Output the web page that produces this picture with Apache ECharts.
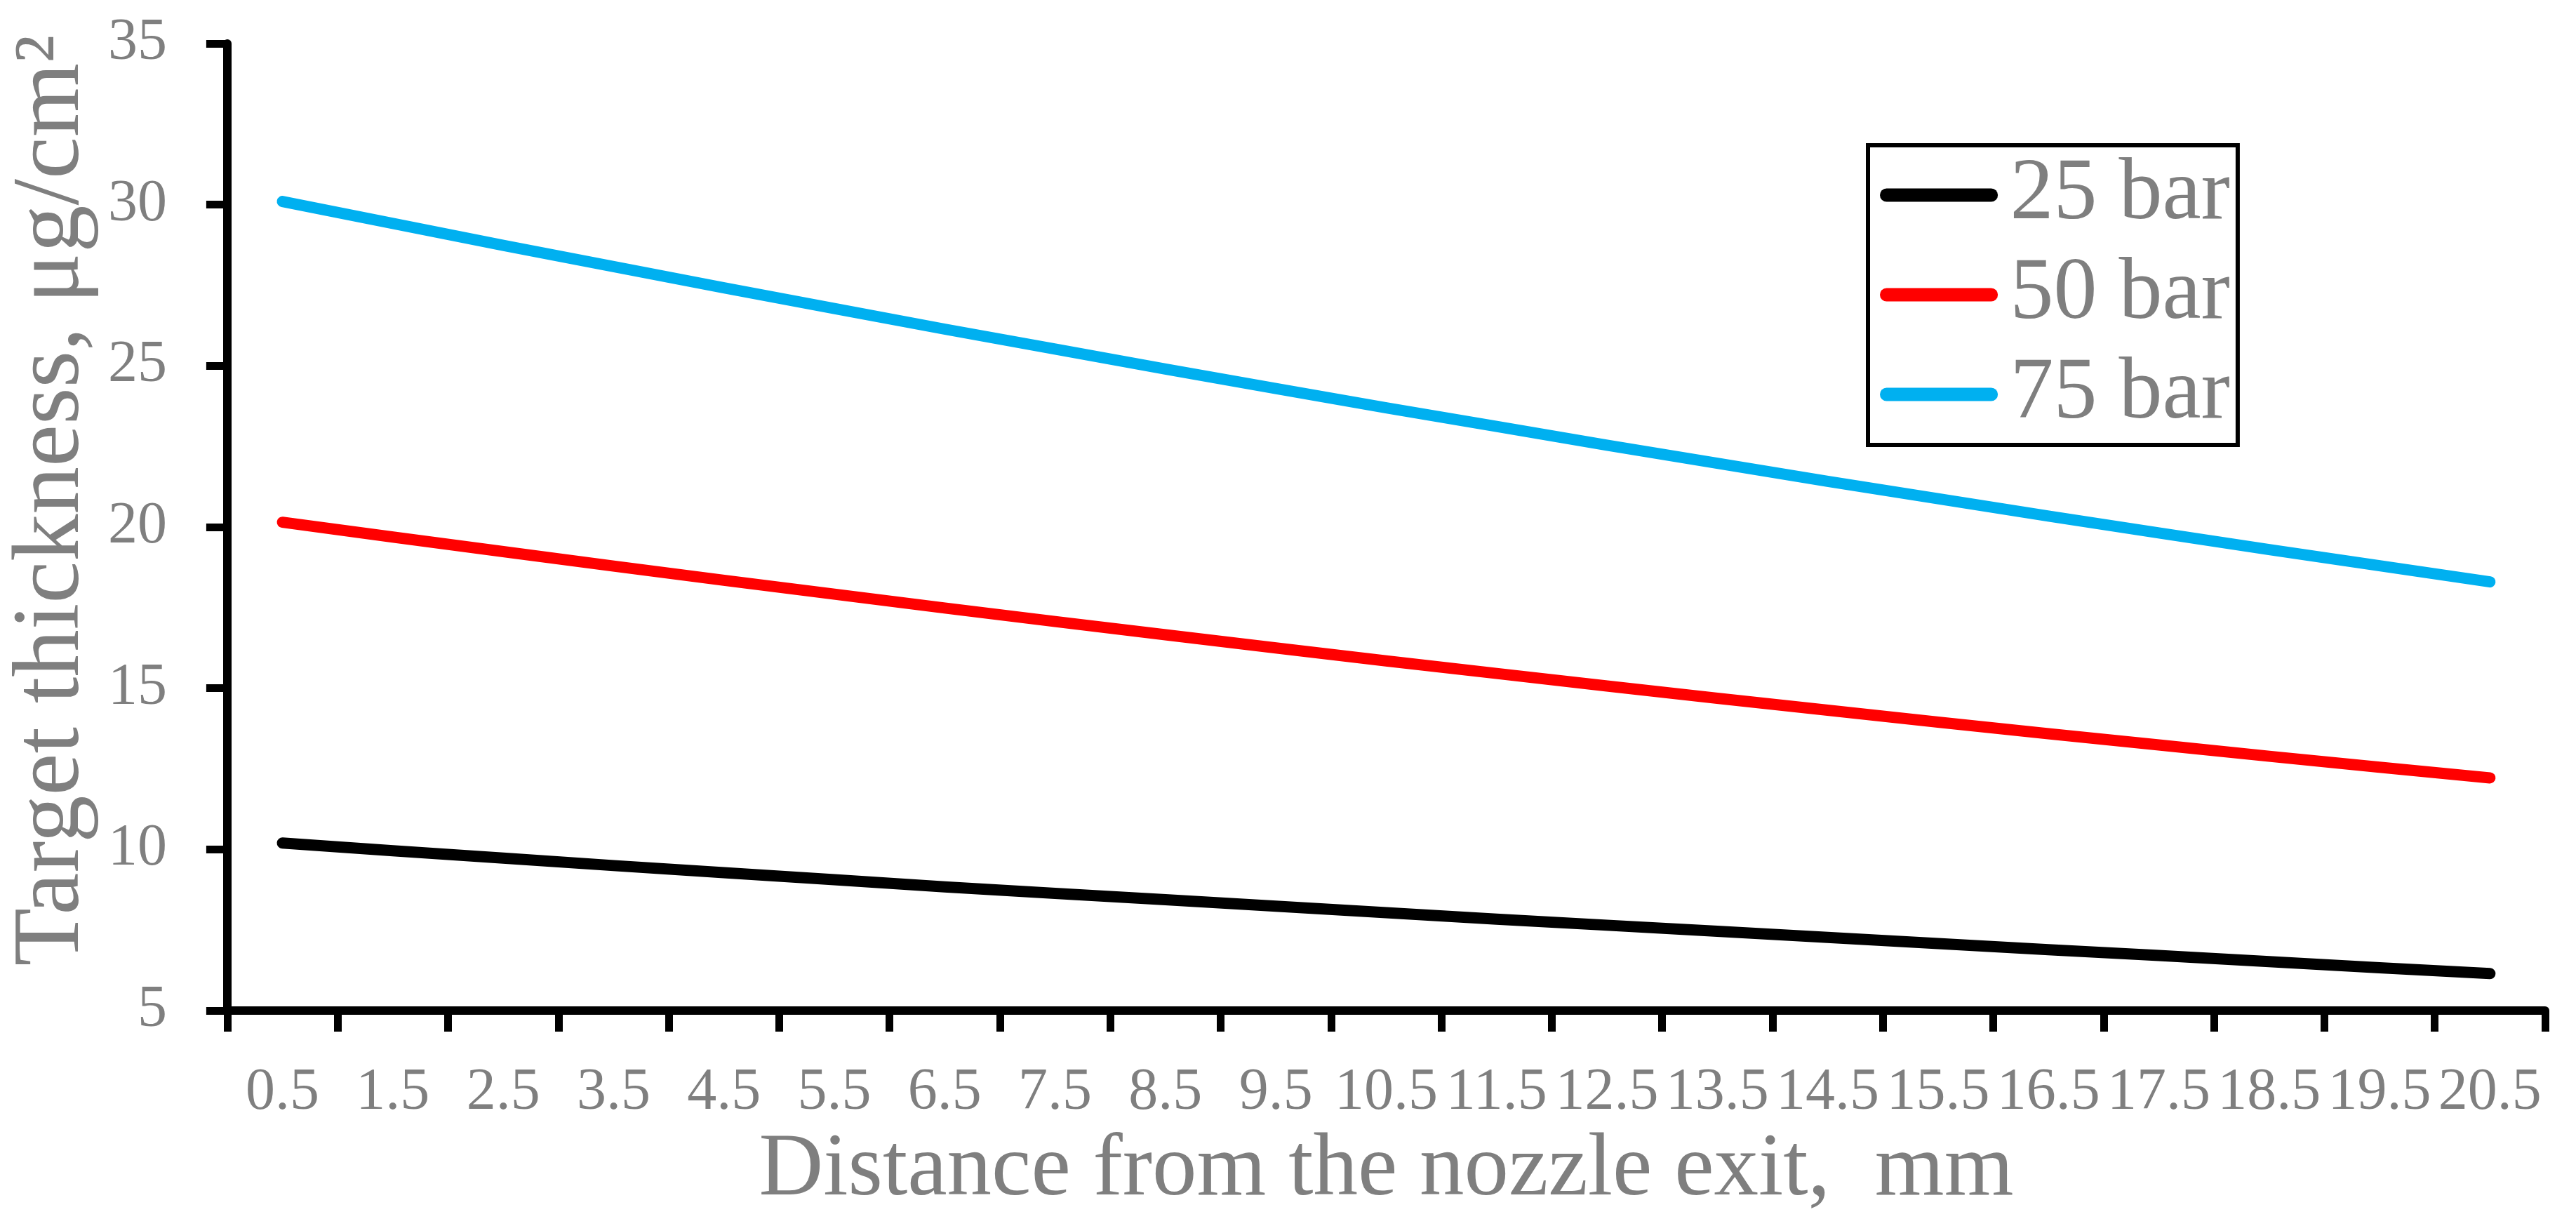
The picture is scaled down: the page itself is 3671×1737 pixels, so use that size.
<!DOCTYPE html>
<html>
<head>
<meta charset="utf-8">
<script src="https://cdn.jsdelivr.net/npm/echarts@6/dist/echarts.min.js"></script>
<style>
html,body{margin:0;padding:0;background:#fff;}
#chart{width:3671px;height:1737px;}
</style>
</head>
<body>
<div id="chart"></div>
<script>
// Data
const distances = ['0.5','1.5','2.5','3.5','4.5','5.5','6.5','7.5','8.5','9.5','10.5','11.5','12.5','13.5','14.5','15.5','16.5','17.5','18.5','19.5','20.5'];
const bar25 = [10.20,9.96,9.73,9.50,9.28,9.06,8.84,8.64,8.44,8.24,8.04,7.84,7.65,7.46,7.27,7.08,6.89,6.71,6.52,6.33,6.15];
const bar50 = [20.15,19.69,19.24,18.79,18.35,17.92,17.49,17.07,16.66,16.25,15.85,15.46,15.07,14.69,14.32,13.95,13.59,13.24,12.89,12.55,12.22];
const bar75 = [30.10,29.42,28.74,28.08,27.42,26.78,26.14,25.52,24.90,24.30,23.70,23.12,22.54,21.98,21.42,20.88,20.34,19.82,19.30,18.80,18.30];
const seriesNames = ['25 bar','50 bar','75 bar'];
const yTicks = {min: 5, max: 35, interval: 5};

const FONT = '"Liberation Serif", "DejaVu Serif", serif';
const GRAY = '#7f7f7f';
const colors = ['#000000', '#FF0000', '#00B0F0'];
const capsule = 'path://M10,0 L167,0 A10,10 0 0 1 167,20 L10,20 A10,10 0 0 1 10,0 Z';

const chart = echarts.init(document.getElementById('chart'), null, {renderer: 'canvas'});
const mk = (name, data, i) => ({
  name: name,
  type: 'line',
  data: data,
  symbol: 'none',
  showSymbol: false,
  color: colors[i],
  lineStyle: {color: colors[i], width: 16, cap: 'round', join: 'round'},
  z: 3
});
chart.setOption({
  animation: false,
  backgroundColor: '#ffffff',
  grid: {left: 318, right: 44, top: 62, bottom: 295, containLabel: false},
  legend: {
    orient: 'vertical',
    left: 2662, top: 207,
    data: seriesNames,
    icon: capsule,
    itemWidth: 177, itemHeight: 19,
    itemGap: 18,
    padding: [9, 11, 10, 17],
    borderColor: '#000', borderWidth: 6, borderRadius: 0,
    backgroundColor: '#fff',
    textStyle: {fontFamily: FONT, fontSize: 124, color: GRAY, padding: [0,0,0,8]}
  },
  xAxis: {
    type: 'category',
    data: distances,
    boundaryGap: true,
    name: 'Distance from the nozzle exit,  mm',
    nameLocation: 'middle',
    nameGap: 150,
    nameTextStyle: {fontFamily: FONT, fontSize: 127, color: GRAY},
    axisLine: {show: true, onZero: false, lineStyle: {color: '#000', width: 12}},
    axisTick: {show: true, alignWithLabel: false, interval: 0, length: 30, lineStyle: {color: '#000', width: 11}},
    axisLabel: {interval: 0, hideOverlap: false, margin: 76, fontFamily: FONT, fontSize: 84, color: GRAY},
    splitLine: {show: false}
  },
  yAxis: {
    type: 'value',
    min: yTicks.min, max: yTicks.max, interval: yTicks.interval,
    name: 'Target thickness, μg/cm²',
    nameLocation: 'middle',
    nameGap: 168,
    nameRotate: 90,
    nameTextStyle: {fontFamily: FONT, fontSize: 135, color: GRAY, padding: [0, 0, 0, 76]},
    axisLine: {show: true, lineStyle: {color: '#000', width: 12}},
    axisTick: {show: true, length: 30, lineStyle: {color: '#000', width: 11}},
    axisLabel: {margin: 86, fontFamily: FONT, fontSize: 84, color: GRAY},
    splitLine: {show: false}
  },
  series: [mk(seriesNames[0], bar25, 0), mk(seriesNames[1], bar50, 1), mk(seriesNames[2], bar75, 2)]
});
</script>
</body>
</html>
